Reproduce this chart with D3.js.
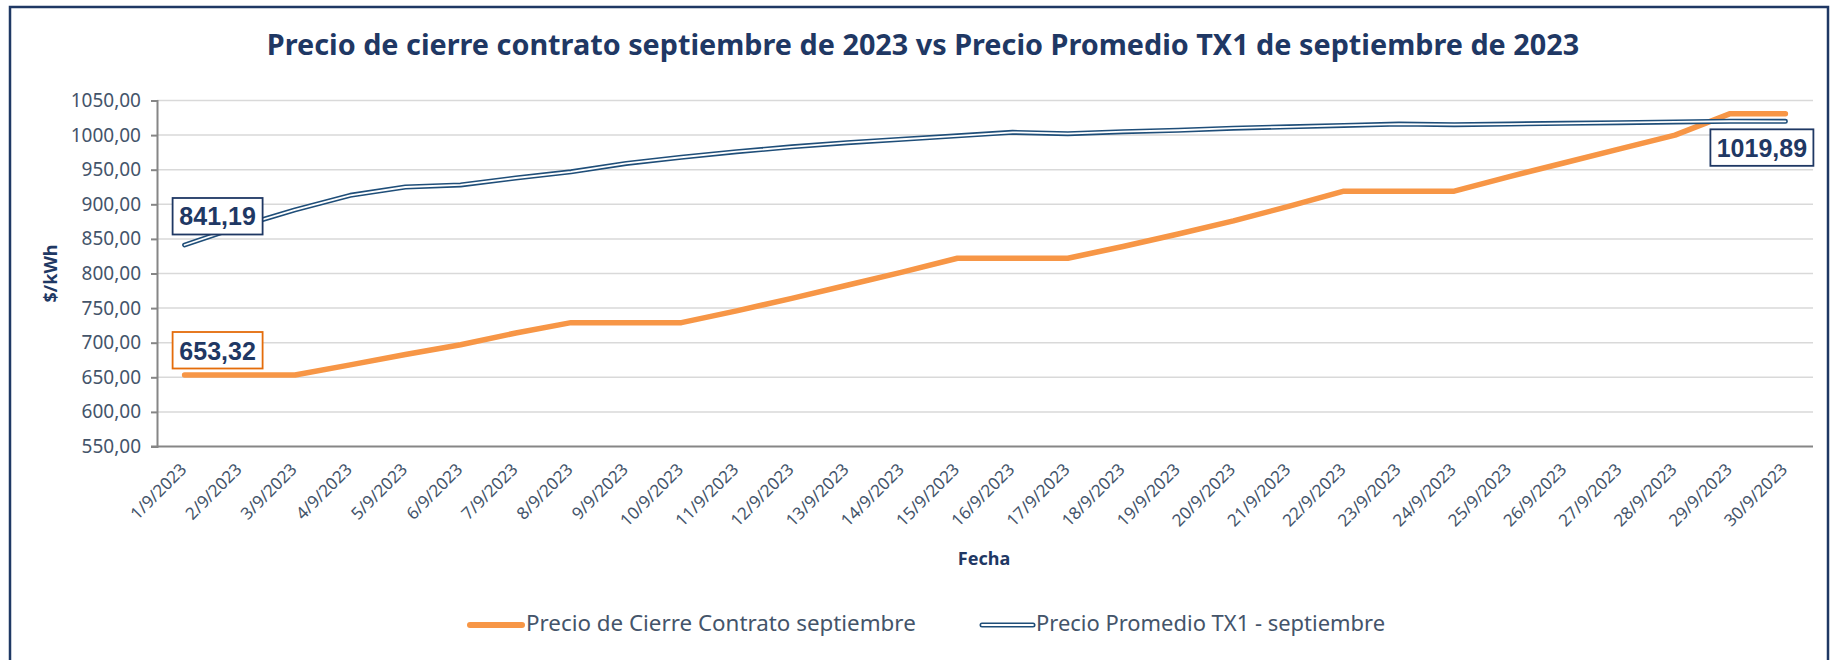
<!DOCTYPE html>
<html>
<head>
<meta charset="utf-8">
<script src="https://cdn.jsdelivr.net/npm/d3@7"></script>
<style>
  body { margin: 0; background: #fff; }
  svg { display: block; font-family: "Noto Sans", sans-serif; }
</style>
</head>
<body>
<div id="chart"></div>
<script>
// Data
const dates = ["1/9/2023", "2/9/2023", "3/9/2023", "4/9/2023", "5/9/2023", "6/9/2023",
  "7/9/2023", "8/9/2023", "9/9/2023", "10/9/2023", "11/9/2023", "12/9/2023",
  "13/9/2023", "14/9/2023", "15/9/2023", "16/9/2023", "17/9/2023", "18/9/2023",
  "19/9/2023", "20/9/2023", "21/9/2023", "22/9/2023", "23/9/2023", "24/9/2023",
  "25/9/2023", "26/9/2023", "27/9/2023", "28/9/2023", "29/9/2023", "30/9/2023"];

const cierre = [653.32, 653.32, 653.32, 668, 683, 697, 714, 729, 729, 729,
  746, 764, 783, 802, 822, 822, 822, 839, 857, 876,
  897, 919, 919, 919, 940, 960, 980, 1000, 1031, 1031];

const promedio = [841.19, 868, 892, 913, 925, 928, 938, 947, 959, 968,
  976, 983, 989, 994, 999, 1004, 1002, 1005, 1007, 1010,
  1012, 1014, 1016, 1015, 1016, 1017, 1018, 1019, 1020, 1019.89];

const yTicks = [550, 600, 650, 700, 750, 800, 850, 900, 950, 1000, 1050];

const seriesNames = ["Precio de Cierre Contrato septiembre", "Precio Promedio TX1 - septiembre"];
const title = "Precio de cierre contrato septiembre de 2023 vs Precio Promedio TX1 de septiembre de 2023";

const width = 1835, height = 660;
const margin = { top: 100.5, right: 22, bottom: 213.5, left: 157 };
const navy = "#1F3864", lineNavy = "#1F4E79", orange = "#F79646", textGray = "#44546A";

const locale = d3.formatLocale({ decimal: ",", thousands: ".", grouping: [3], currency: ["$", ""] });
const fmt = locale.format(".2f");

const svg = d3.select("#chart").append("svg")
  .attr("width", width)
  .attr("height", height);

svg.append("rect").attr("width", width).attr("height", height).attr("fill", "#fff");

// outer frame
svg.append("rect")
  .attr("x", 10).attr("y", 7)
  .attr("width", 1818).attr("height", 700)
  .attr("fill", "none")
  .attr("stroke", navy)
  .attr("stroke-width", 2.5);

// fit a text element to a target width by changing its font size
function fitWidth(sel, target) {
  const node = sel.node();
  const fs = parseFloat(sel.attr("font-size"));
  const w = node.getComputedTextLength();
  sel.attr("font-size", (fs * target / w).toFixed(2));
}

// title
const t = svg.append("text")
  .attr("x", 923).attr("y", 55)
  .attr("text-anchor", "middle")
  .attr("font-size", 28)
  .attr("font-weight", "bold")
  .attr("fill", navy)
  .text(title);
fitWidth(t, 1313);

// scales
const x = d3.scalePoint()
  .domain(dates)
  .range([margin.left, width - margin.right])
  .padding(0.5);

const y = d3.scaleLinear()
  .domain([550, 1050])
  .range([height - margin.bottom, margin.top]);

// gridlines
svg.append("g")
  .selectAll("line")
  .data(yTicks.slice(1))
  .enter()
  .append("line")
  .attr("x1", margin.left).attr("x2", width - margin.right)
  .attr("y1", d => y(d)).attr("y2", d => y(d))
  .attr("stroke", "#d9d9d9")
  .attr("stroke-width", 1.5);

// y axis
const yAxis = svg.append("g")
  .attr("transform", `translate(${margin.left},0)`)
  .call(d3.axisLeft(y).tickValues(yTicks).tickFormat(fmt).tickSize(6).tickPadding(10));
yAxis.select(".domain").attr("stroke", "#868686").attr("stroke-width", 2);
yAxis.selectAll(".tick line").attr("stroke", "#868686").attr("stroke-width", 2);
yAxis.selectAll(".tick text")
  .attr("font-family", "Noto Sans, sans-serif")
  .attr("font-size", 19)
  .attr("fill", textGray);

// x axis line
svg.append("line")
  .attr("x1", margin.left - 6).attr("x2", width - margin.right)
  .attr("y1", y(550)).attr("y2", y(550))
  .attr("stroke", "#868686")
  .attr("stroke-width", 2);

// x labels
svg.append("g")
  .selectAll("text")
  .data(dates)
  .enter()
  .append("text")
  .attr("transform", d => `translate(${x(d) + 3},${y(550) + 24}) rotate(-45)`)
  .attr("text-anchor", "end")
  .attr("font-size", 17)
  .attr("fill", textGray)
  .text(d => d);

// axis titles
svg.append("text")
  .attr("transform", `translate(57,${(y(550) + y(1050)) / 2}) rotate(-90)`)
  .attr("text-anchor", "middle")
  .attr("font-size", 18)
  .attr("font-weight", "bold")
  .attr("fill", navy)
  .text("$/kWh");

svg.append("text")
  .attr("x", 984).attr("y", 565)
  .attr("text-anchor", "middle")
  .attr("font-size", 18)
  .attr("font-weight", "bold")
  .attr("fill", navy)
  .text("Fecha");

// lines
const line = d3.line()
  .x((d, i) => x(dates[i]))
  .y(d => y(d));

svg.append("path")
  .datum(cierre)
  .attr("d", line)
  .attr("fill", "none")
  .attr("stroke", orange)
  .attr("stroke-width", 5.5)
  .attr("stroke-linecap", "round")
  .attr("stroke-linejoin", "round");

svg.append("path")
  .datum(promedio)
  .attr("d", line)
  .attr("fill", "none")
  .attr("stroke", lineNavy)
  .attr("stroke-width", 5)
  .attr("stroke-linecap", "round")
  .attr("stroke-linejoin", "round");

svg.append("path")
  .datum(promedio)
  .attr("d", line)
  .attr("fill", "none")
  .attr("stroke", "#fff")
  .attr("stroke-width", 1.8)
  .attr("stroke-linecap", "round")
  .attr("stroke-linejoin", "round");

// data labels
const labels = [
  { i: 0, v: promedio[0], border: navy, dx: -12, dy: -47, w: 90 },
  { i: 0, v: cierre[0], border: "#E46C0A", dx: -12, dy: -43, w: 90 },
  { i: dates.length - 1, v: promedio[dates.length - 1], border: navy, dx: -75, dy: 8, w: 103 }
];

const lab = svg.append("g")
  .selectAll("g")
  .data(labels)
  .enter()
  .append("g")
  .attr("transform", d => `translate(${x(dates[d.i]) + d.dx},${y(d.v) + d.dy})`);

lab.append("rect")
  .attr("width", d => d.w)
  .attr("height", 36.5)
  .attr("fill", "#fff")
  .attr("stroke", d => d.border)
  .attr("stroke-width", 1.8);

lab.append("text")
  .attr("x", d => d.w / 2)
  .attr("y", 27.5)
  .attr("text-anchor", "middle")
  .attr("font-family", "Liberation Sans, Arial, sans-serif")
  .attr("font-size", 25)
  .attr("font-weight", "bold")
  .attr("fill", navy)
  .text(d => fmt(d.v));

// legend
const legY = 625;
const leg = svg.append("g");

leg.append("line")
  .attr("x1", 470).attr("x2", 522)
  .attr("y1", legY).attr("y2", legY)
  .attr("stroke", orange).attr("stroke-width", 6)
  .attr("stroke-linecap", "round");

leg.append("line")
  .attr("x1", 982).attr("x2", 1033)
  .attr("y1", legY).attr("y2", legY)
  .attr("stroke", lineNavy).attr("stroke-width", 5)
  .attr("stroke-linecap", "round");
leg.append("line")
  .attr("x1", 982).attr("x2", 1033)
  .attr("y1", legY).attr("y2", legY)
  .attr("stroke", "#fff").attr("stroke-width", 1.8)
  .attr("stroke-linecap", "round");

const l1 = leg.append("text")
  .attr("x", 526).attr("y", legY + 6)
  .attr("font-size", 18)
  .attr("fill", textGray)
  .text(seriesNames[0]);
fitWidth(l1, 390);

const l2 = leg.append("text")
  .attr("x", 1036).attr("y", legY + 6)
  .attr("font-size", 18)
  .attr("fill", textGray)
  .text(seriesNames[1]);
fitWidth(l2, 349);
</script>
</body>
</html>
